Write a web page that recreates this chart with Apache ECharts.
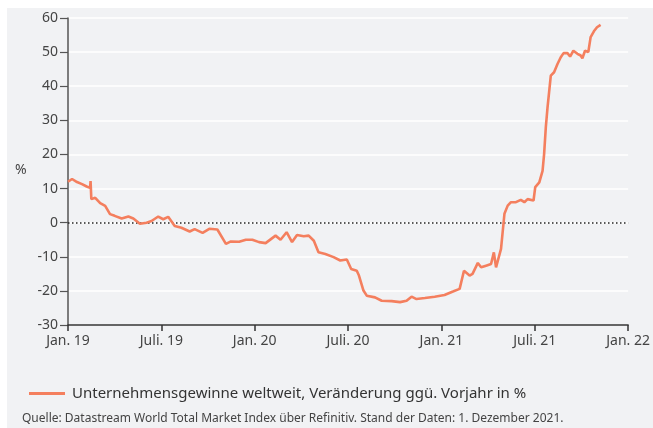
<!DOCTYPE html>
<html>
<head>
<meta charset="utf-8">
<script src="https://cdn.jsdelivr.net/npm/echarts@6/dist/echarts.min.js"></script>
<style>
html,body{margin:0;padding:0;background:#fff;}
#chart{width:653px;height:428px;}
</style>
</head>
<body>
<div id="chart"></div>
<script>
// x positions: months since Jan. 2019
const months = [0,0.26,0.58,0.9,1.2,1.42,1.45,1.5,1.75,2.07,2.39,2.7,3.0,3.45,3.88,4.2,4.62,5.05,5.37,5.8,6.12,6.44,6.86,7.29,7.82,8.14,8.65,9.08,9.6,10.15,10.47,11.0,11.43,11.85,12.28,12.7,13.34,13.66,14.05,14.4,14.72,15.15,15.47,15.8,16.1,16.54,17.07,17.5,17.92,18.0,18.2,18.56,18.7,18.99,19.2,19.73,20.16,20.8,21.34,21.76,22.08,22.4,22.94,23.57,24.2,24.74,25.17,25.45,25.81,26.0,26.34,26.55,26.87,27.19,27.37,27.51,27.83,28.05,28.26,28.47,28.79,29.1,29.33,29.54,29.92,30.03,30.29,30.5,30.6,30.71,30.82,31.03,31.24,31.46,31.67,31.85,32.1,32.27,32.48,32.74,32.95,33.06,33.23,33.44,33.59,33.8,34.0,34.23];
const values = [12.0,12.8,11.9,11.3,10.6,10.2,12.2,6.9,7.3,5.7,4.9,2.5,2.0,1.2,1.8,1.2,-0.3,0,0.5,1.8,1.0,1.7,-1.0,-1.5,-2.6,-1.9,-3.0,-1.8,-2.0,-6.2,-5.5,-5.6,-5.0,-5.0,-5.7,-6.0,-3.8,-5.0,-2.8,-5.7,-3.6,-4.0,-3.8,-5.3,-8.7,-9.2,-10.1,-11.1,-10.8,-10.6,-13.6,-14.1,-15.5,-19.9,-21.4,-21.9,-22.9,-23.0,-23.3,-22.9,-21.7,-22.4,-22.1,-21.7,-21.2,-20.2,-19.4,-14.1,-15.5,-15.0,-11.8,-13.1,-12.6,-12.1,-8.7,-13.1,-7.7,2.6,5.0,6.0,6.0,6.7,6.0,6.9,6.5,10.4,11.8,15.2,20.1,28.0,33.8,43.1,44.1,46.5,48.5,49.7,49.7,48.7,50.4,49.5,49.0,48.2,50.4,50.0,54.4,56.1,57.3,58.0];
const xTickLabels = ['Jan. 19','Juli. 19','Jan. 20','Juli. 20','Jan. 21','Juli. 21','Jan. 22'];
const seriesName = 'Unternehmensgewinne weltweit, Veränderung ggü. Vorjahr in %';
const sourceText = 'Quelle: Datastream World Total Market Index über Refinitiv. Stand der Daten: 1. Dezember 2021.';

const FONT = 'Noto Sans';
const chart = echarts.init(document.getElementById('chart'), null, {renderer:'canvas'});
chart.setOption({
  animation:false,
  textStyle:{fontFamily:FONT},
  graphic:[
    {type:'rect', z:-10, shape:{x:7,y:8,width:646,height:420}, style:{fill:'#f1f2f4'}},
    {type:'text', left:15, top:163, style:{text:'%', font:'14px "Noto Sans"', fill:'#444'}},
    {type:'text', left:22, top:413, style:{text:sourceText, font:'12px "Noto Sans"', fill:'#444'}}
  ],
  legend:{
    left:24, top:381, icon:'rect', itemWidth:36, itemHeight:3, itemGap:10,
    textStyle:{fontFamily:FONT, fontSize:15, color:'#333', padding:[0,0,0,2]},
    data:[seriesName]
  },
  grid:{left:68, right:22, top:18, bottom:103, containLabel:false},
  xAxis:{
    type:'value', min:0, max:36, interval:6,
    axisLine:{show:true, onZero:false, lineStyle:{color:'#333', width:1.5}},
    axisTick:{show:true, length:6, lineStyle:{color:'#333', width:1.5}},
    axisLabel:{color:'#444', fontSize:14, margin:9, formatter:(v)=>xTickLabels[Math.round(v/6)]},
    splitLine:{show:false}
  },
  yAxis:{
    type:'value', min:-30, max:60, interval:10,
    axisLine:{show:true, onZero:false, lineStyle:{color:'#555', width:1.5}},
    axisTick:{show:true, length:8, lineStyle:{color:'#555', width:1.2}},
    axisLabel:{color:'#444', fontSize:14, margin:10},
    splitLine:{show:true, lineStyle:{color:'#ffffff', width:1.5}}
  },
  series:[{
    name:seriesName,
    type:'line',
    data:months.map((m,i)=>[m, values[i]]),
    showSymbol:false,
    lineStyle:{color:'#f47f5e', width:2.6},
    itemStyle:{color:'#f47f5e'},
    z:5,
    markLine:{
      silent:true, symbol:'none', label:{show:false},
      lineStyle:{color:'#222', type:[1.5,2.5], width:1.5},
      data:[{yAxis:0}],
      z:3
    }
  }]
});
</script>
</body>
</html>
